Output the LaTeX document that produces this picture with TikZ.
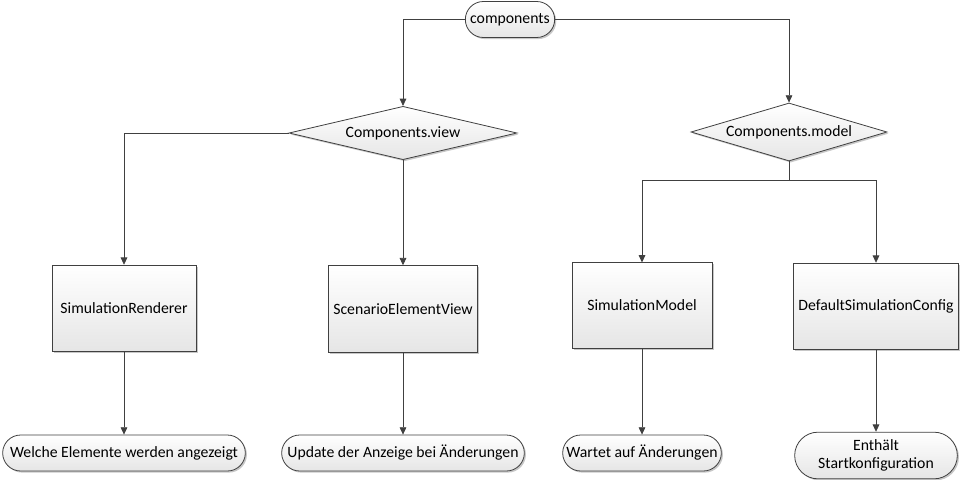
\documentclass[tikz,border=0pt]{standalone}
\usepackage{fontspec}
\setmainfont{Carlito}
\usetikzlibrary{shapes.geometric,shapes.misc,arrows.meta,shadows}
\begin{document}
\begin{tikzpicture}[x=0.75pt,y=-0.75pt,
  base/.style={draw=black!75, line width=0.6pt, top color=white, bottom color=black!10,
    font=\fontsize{11.8}{14}\selectfont, inner sep=2pt, text=black,
    drop shadow={shadow xshift=1.2pt, shadow yshift=-1.2pt, fill=black, opacity=0.22}},
  proc/.style={base, rectangle, minimum height=65pt},
  term/.style={base, rounded rectangle, minimum height=27pt, align=center},
  decis/.style={base, diamond, aspect=4, inner sep=0pt},
  conn/.style={draw=black!75, line width=0.6pt, -{Triangle[length=5.5pt,width=5pt]}},
  plain/.style={draw=black!75, line width=0.6pt}
]
\useasboundingbox (0,0) rectangle (962,479);
\fill[white] (0,0) rectangle (962,479);

\node[term, minimum width=71pt] (comp) at (510,19.5) {components};

\node[decis, minimum width=171pt, minimum height=40pt] (view) at (403,133) {Components.view};
\node[decis, minimum width=147pt, minimum height=43.5pt] (model) at (789,132) {Components.model};

\node[proc, minimum width=108pt] (sr) at (124,308.5) {SimulationRenderer};
\node[proc, minimum width=112pt] (sev) at (403,309) {ScenarioElementView};
\node[proc, minimum width=105pt, minimum height=64pt] (sm) at (642,305.5) {SimulationModel};
\node[proc, minimum width=124pt] (dsc) at (876,306.5) {DefaultSimulationConfig};

\node[term, minimum width=184pt, inner xsep=1pt] (t1) at (124,453) {Welche Elemente werden angezeigt};
\node[term, minimum width=184pt, inner xsep=1pt] (t2) at (403,453) {Update der Anzeige bei Änderungen};
\node[term, minimum width=123pt] (t3) at (642,453) {Wartet auf Änderungen};
\node[term, minimum width=124pt, minimum height=35pt, inner sep=1pt] (t4) at (876,455.5) {Enthält\\Startkonfiguration};

\draw[conn] (comp.west) -| (view.north);
\draw[conn] (comp.east) -| (model.north);
\draw[conn] (view.west) -| (sr.north);
\draw[conn] (view.south) -- (sev.north);
\draw[plain] (model.south) -- ++(0,19) coordinate (split);
\draw[conn] (split) -| (sm.north);
\draw[conn] (split) -| (dsc.north);

\draw[conn] (sr.south) -- (t1.north);
\draw[conn] (sev.south) -- (t2.north);
\draw[conn] (sm.south) -- (t3.north);
\draw[conn] (dsc.south) -- (t4.north);
\end{tikzpicture}
\end{document}
